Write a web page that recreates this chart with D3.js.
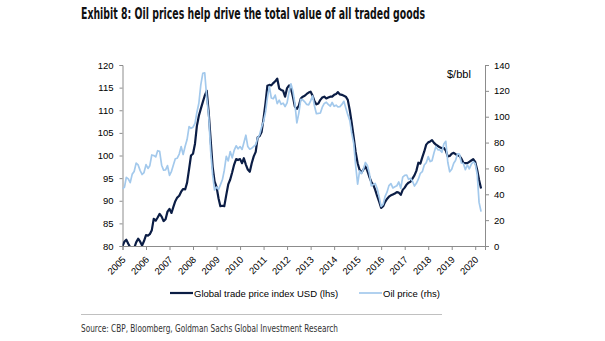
<!DOCTYPE html>
<html>
<head>
<meta charset="utf-8">
<script src="https://cdn.jsdelivr.net/npm/d3@7"></script>
<style>
    body { margin: 0; background: #fff; }
    svg text { font-family: "Liberation Sans", Arial, sans-serif; }
</style>
</head>
<body>
<div id="chart"></div>
<script>
// monthly series, Jan 2005 .. Apr 2020
const firstMonth = new Date(2005, 0, 1);

// global trade price index USD (lhs)
const tradeIndex = [
    80.0, 81.0, 81.4, 80.5, 79.7, 79.3, 79.5, 80.8, 81.6, 81.0, 80.1, 81.1,
    82.4, 82.3, 82.6, 83.5, 86.0, 85.6, 86.3, 87.1, 86.5, 85.5, 85.9, 87.6,
    88.2, 87.3, 88.6, 89.9, 90.7, 91.1, 92.0, 92.6, 92.5, 94.0, 97.0, 100.0,
    100.4, 102.6, 106.5, 108.8, 110.3, 111.8, 113.2, 114.3, 109.5, 103.5, 97.5, 94.3,
    93.0, 90.5, 88.8, 88.9, 88.8, 91.3, 93.6, 94.7, 96.3, 98.0, 99.2, 99.0,
    99.2, 98.3, 99.4, 98.0, 96.9, 96.4, 98.3, 99.8, 100.8, 104.0, 104.3, 105.2,
    108.2, 111.7, 115.4, 115.6, 115.5, 116.0, 116.4, 117.0, 114.8, 114.5, 114.3, 113.0,
    114.9, 115.5, 114.8, 113.0, 110.8, 110.3, 111.0, 112.6, 113.0, 113.2, 113.6, 113.9,
    114.1, 113.2, 112.0, 111.3, 111.5, 112.3, 112.8, 113.0, 112.6, 112.8, 113.0, 113.0,
    113.4, 113.6, 114.0, 113.5, 113.4, 113.2, 113.0, 112.3, 110.0, 107.2, 104.0, 100.8,
    98.3, 96.8, 96.2, 96.9, 97.6, 96.6, 95.3, 94.2, 93.5, 92.4, 91.0, 89.8,
    88.4, 88.8, 89.7, 90.4, 90.9, 91.2, 91.4, 91.6, 91.9, 91.8, 91.3, 92.4,
    92.9, 93.6, 94.0, 94.2, 94.9, 95.6, 96.6, 98.4, 98.2, 99.6, 100.9, 102.4,
    102.9, 103.1, 103.4, 102.8, 102.4, 102.1, 101.8, 101.6, 101.7, 101.1, 99.8, 99.9,
    100.4, 100.6, 100.3, 100.1, 99.9, 99.3, 98.4, 98.3, 98.3, 98.6, 98.9, 99.2,
    98.6, 96.8, 94.6, 92.7
];

// oil price $/bbl (rhs)
const oilPrice = [
    44.2, 45.5, 53.1, 51.9, 49.0, 55.6, 57.6, 64.1, 62.7, 58.5, 55.3, 56.8,
    62.9, 60.0, 62.1, 70.4, 70.0, 68.9, 73.7, 73.2, 62.5, 58.7, 58.9, 62.2,
    54.6, 57.8, 62.4, 67.5, 67.9, 71.1, 76.9, 70.8, 77.1, 82.3, 92.4, 91.0,
    91.9, 94.8, 103.3, 110.4, 124.6, 133.5, 134.0, 115.0, 100.8, 73.6, 55.0, 43.3,
    45.6, 43.7, 47.3, 51.2, 58.6, 69.3, 65.8, 73.1, 68.2, 73.9, 77.5, 75.2,
    76.9, 74.7, 79.9, 85.7, 76.9, 74.9, 75.6, 77.1, 78.4, 83.5, 86.2, 91.8,
    96.5, 103.7, 114.6, 123.3, 114.5, 113.9, 116.7, 110.1, 112.8, 109.6, 110.5, 107.9,
    110.7, 119.3, 125.5, 119.8, 110.3, 95.2, 102.6, 113.4, 113.0, 111.5, 109.5, 109.2,
    112.3, 116.1, 108.5, 102.3, 102.6, 102.9, 107.4, 110.3, 111.2, 109.5, 108.1, 111.0,
    108.1, 108.9, 107.5, 107.8, 109.5, 111.9, 106.8, 101.6, 97.1, 87.4, 79.4, 62.3,
    47.8, 58.1, 55.9, 59.5, 64.6, 62.3, 56.5, 46.5, 47.6, 48.4, 44.3, 38.0,
    30.7, 32.2, 38.2, 41.6, 46.7, 48.3, 44.9, 45.8, 46.6, 49.5, 44.7, 53.3,
    54.6, 54.9, 51.6, 52.3, 50.3, 46.4, 48.5, 51.7, 56.2, 57.5, 62.7, 64.4,
    69.1, 65.3, 66.0, 72.1, 76.9, 74.4, 74.3, 72.5, 78.9, 81.0, 64.8, 57.4,
    59.4, 64.0, 66.1, 71.2, 71.0, 64.2, 63.9, 59.0, 62.8, 59.7, 63.2, 65.2,
    63.7, 55.5, 33.7, 26.6
];

const yearTicks = [2005, 2006, 2007, 2008, 2009, 2010, 2011, 2012, 2013, 2014,
                   2015, 2016, 2017, 2018, 2019, 2020];
const leftTicks = [80, 85, 90, 95, 100, 105, 110, 115, 120];
const rightTicks = [0, 20, 40, 60, 80, 100, 120, 140];

const seriesNames = ["Global trade price index USD (lhs)", "Oil price (rhs)"];
const titleText = "Exhibit 8: Oil prices help drive the total value of all traded goods";
const sourceText = "Source: CBP, Bloomberg, Goldman Sachs Global Investment Research";

const darkBlue = "#0b1d45";
const lightBlue = "#a3c9ec";
const axisGrey = "#8c8c8c";

let width = 605, height = 341;
let plot = {left: 122.5, right: 485, top: 65, bottom: 246};

let svg = d3.select("#chart").append("svg")
    .attr("width", width)
    .attr("height", height);

let months = tradeIndex.map((d, i) => d3.timeMonth.offset(firstMonth, i));

let x = d3.scaleTime()
    .domain([firstMonth, new Date(2020, 5, 1)])
    .range([plot.left, plot.right]);

let yLeft = d3.scaleLinear()
    .domain([80, 120])
    .range([plot.bottom, plot.top]);

let yRight = d3.scaleLinear()
    .domain([0, 140])
    .range([plot.bottom, plot.top]);

// title
svg.append("text")
    .attr("x", 81)
    .attr("y", 19)
    .attr("textLength", 344)
    .attr("lengthAdjust", "spacingAndGlyphs")
    .style("font-family", "'Liberation Sans Narrow', 'DejaVu Sans Condensed', sans-serif")
    .style("font-weight", "bold")
    .style("font-size", "15.5px")
    .style("fill", "#111")
    .text(titleText);

// clip for the plot area
svg.append("defs").append("clipPath")
    .attr("id", "plot-clip")
    .append("rect")
    .attr("x", plot.left)
    .attr("y", plot.top - 5)
    .attr("width", plot.right - plot.left)
    .attr("height", plot.bottom - plot.top + 5);

// axes
let leftAxis = d3.axisLeft(yLeft).tickValues(leftTicks).tickSize(3).tickPadding(6);
let rightAxis = d3.axisRight(yRight).tickValues(rightTicks).tickSize(4).tickPadding(5);
let bottomAxis = d3.axisBottom(x)
    .tickValues(yearTicks.map(yr => new Date(yr, 0, 1)))
    .tickSize(4)
    .tickFormat(d3.timeFormat("%Y"));

let gLeft = svg.append("g")
    .attr("transform", `translate(${plot.left},0)`)
    .call(leftAxis);

let gRight = svg.append("g")
    .attr("transform", `translate(${plot.right},0)`)
    .call(rightAxis);

let gBottom = svg.append("g")
    .attr("transform", `translate(0,${plot.bottom})`)
    .call(bottomAxis);

[gLeft, gRight, gBottom].forEach(g => {
    g.select(".domain").attr("stroke", axisGrey);
    g.selectAll(".tick line").attr("stroke", axisGrey);
    g.selectAll(".tick text")
        .style("font-family", "'Liberation Sans', Arial, sans-serif")
        .style("font-size", "9.5px")
        .attr("fill", "#000");
});

// rotated year labels
gBottom.selectAll(".tick text")
    .attr("text-anchor", "end")
    .attr("dy", "0.35em")
    .attr("y", 0)
    .attr("transform", "translate(1,12) rotate(-45)");

// unit label
svg.append("text")
    .attr("x", 447)
    .attr("y", 78)
    .style("font-size", "11px")
    .style("fill", "#000")
    .text("$/bbl");

// lines
let lineLeft = d3.line()
    .x((d, i) => x(months[i]))
    .y(d => yLeft(d));

let lineRight = d3.line()
    .x((d, i) => x(months[i]))
    .y(d => yRight(d));

let lines = svg.append("g").attr("clip-path", "url(#plot-clip)");

lines.append("path")
    .datum(tradeIndex)
    .attr("fill", "none")
    .attr("stroke", darkBlue)
    .attr("stroke-width", 2.2)
    .attr("stroke-linejoin", "round")
    .attr("d", lineLeft);

lines.append("path")
    .datum(oilPrice)
    .attr("fill", "none")
    .attr("stroke", lightBlue)
    .attr("stroke-width", 1.7)
    .attr("stroke-linejoin", "round")
    .attr("d", lineRight);

// legend
let legendItems = [
    {name: seriesNames[0], color: darkBlue, x: 170, w: 2.2},
    {name: seriesNames[1], color: lightBlue, x: 359, w: 1.7}
];

let legend = svg.append("g").attr("class", "legend");

legend.selectAll("line")
    .data(legendItems)
    .enter()
    .append("line")
    .attr("x1", d => d.x)
    .attr("x2", d => d.x + 23)
    .attr("y1", 293)
    .attr("y2", 293)
    .attr("stroke", d => d.color)
    .attr("stroke-width", d => d.w);

legend.selectAll("text")
    .data(legendItems)
    .enter()
    .append("text")
    .attr("x", d => d.x + 24)
    .attr("y", 296.5)
    .style("font-size", "9.5px")
    .style("fill", "#000")
    .text(d => d.name);

// source rule and text
svg.append("line")
    .attr("x1", 81)
    .attr("x2", 442)
    .attr("y1", 314.5)
    .attr("y2", 314.5)
    .attr("stroke", "#c0c0c0")
    .attr("stroke-width", 1);

svg.append("text")
    .attr("x", 81)
    .attr("y", 332)
    .attr("textLength", 257)
    .attr("lengthAdjust", "spacingAndGlyphs")
    .style("font-family", "'Liberation Sans Narrow', 'DejaVu Sans Condensed', sans-serif")
    .style("font-size", "10.5px")
    .style("fill", "#333")
    .text(sourceText);
</script>
</body>
</html>
